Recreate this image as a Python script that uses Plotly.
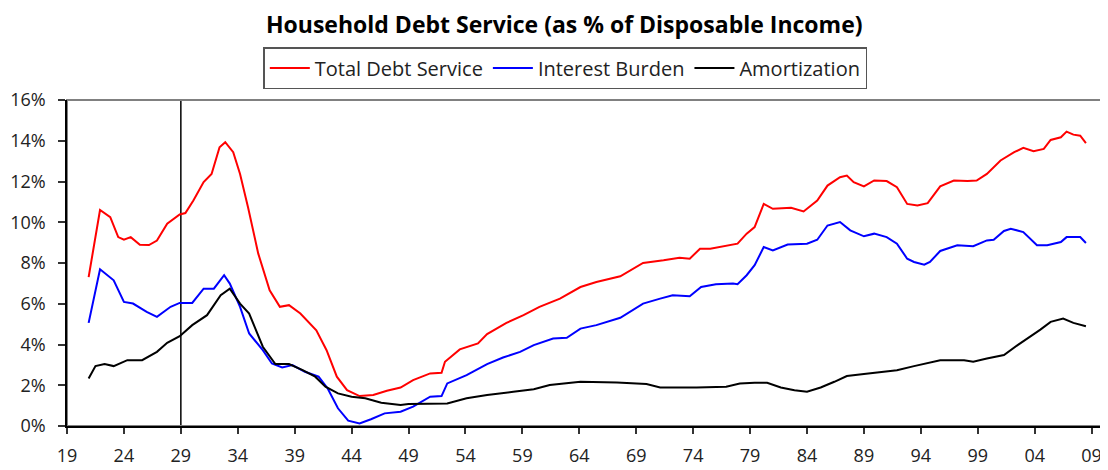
import plotly.graph_objects as go

# ---- data ----
total_years = [1920.9, 1921.9, 1922.8, 1923.5, 1924.0, 1924.6, 1925.4, 1926.2, 1926.9, 1927.8,
               1928.9, 1929.4, 1930.1, 1931.0, 1931.7, 1932.4, 1932.9, 1933.6, 1934.2, 1934.9,
               1935.8, 1936.8, 1937.7, 1938.5, 1939.5, 1940.9, 1941.8, 1942.7, 1943.6, 1944.7,
               1945.9, 1947.1, 1948.3, 1949.4, 1950.9, 1951.9, 1952.2, 1953.5, 1955.1, 1955.9,
               1957.6, 1959.1, 1960.5, 1962.3, 1964.1, 1965.5, 1967.6, 1969.6, 1971.4, 1972.8,
               1973.7, 1974.6, 1975.5, 1976.6, 1977.9, 1978.7, 1979.4, 1980.2, 1981.0, 1982.6,
               1983.7, 1984.9, 1985.8, 1986.9, 1987.5, 1988.1, 1989.0, 1989.9, 1991.0, 1991.9,
               1992.8, 1993.7, 1994.6, 1995.7, 1996.9, 1998.1, 1998.9, 1999.8, 2001.0, 2002.2,
               2003.0, 2003.9, 2004.8, 2005.4, 2006.3, 2006.8, 2007.4, 2008.0, 2008.5]
total_debt_service = [7.31, 10.6, 10.25, 9.27, 9.14, 9.27, 8.9, 8.88, 9.1, 9.93,
                      10.38, 10.45, 11.07, 11.97, 12.37, 13.68, 13.93, 13.44, 12.37, 10.74,
                      8.46, 6.66, 5.85, 5.93, 5.52, 4.70, 3.72, 2.42, 1.76, 1.47,
                      1.52, 1.73, 1.89, 2.25, 2.58, 2.61, 3.15, 3.76, 4.05, 4.51,
                      5.06, 5.44, 5.85, 6.25, 6.82, 7.07, 7.35, 8.0, 8.13, 8.26,
                      8.21, 8.7, 8.7, 8.83, 8.95, 9.44, 9.76, 10.9, 10.66, 10.71,
                      10.53, 11.07, 11.8, 12.21, 12.29, 11.97, 11.76, 12.05, 12.02, 11.72,
                      10.9, 10.82, 10.94, 11.76, 12.05, 12.02, 12.05, 12.37, 13.03, 13.44,
                      13.65, 13.49, 13.6, 14.04, 14.17, 14.45, 14.3, 14.25, 13.88]

interest_years = [1920.9, 1921.9, 1923.1, 1924.0, 1924.8, 1926.0, 1926.9, 1928.1, 1928.9, 1930.0,
                  1931.0, 1931.9, 1932.8, 1933.3, 1934.2, 1935.0, 1936.2, 1937.0, 1937.9, 1938.8,
                  1939.9, 1941.1, 1941.9, 1942.8, 1943.7, 1944.7, 1945.7, 1946.9, 1948.3, 1949.4,
                  1950.9, 1951.9, 1952.4, 1954.1, 1955.9, 1957.3, 1958.8, 1960.0, 1961.7, 1962.9,
                  1964.1, 1965.5, 1967.6, 1969.6, 1971.1, 1972.2, 1973.7, 1974.7, 1976.0, 1977.5,
                  1977.9, 1978.7, 1979.4, 1980.2, 1981.0, 1982.3, 1984.0, 1984.9, 1985.8, 1986.9,
                  1987.8, 1989.0, 1989.9, 1991.0, 1991.9, 1992.8, 1993.4, 1994.3, 1994.8, 1995.7,
                  1997.2, 1998.6, 1999.8, 2000.4, 2001.3, 2001.9, 2003.0, 2004.2, 2005.1, 2006.3,
                  2006.8, 2008.0, 2008.5]
interest_burden = [5.06, 7.69, 7.15, 6.09, 6.01, 5.6, 5.36, 5.85, 6.04, 6.04,
                   6.74, 6.74, 7.4, 6.99, 5.85, 4.54, 3.72, 3.07, 2.87, 2.99,
                   2.66, 2.42, 1.84, 0.87, 0.26, 0.13, 0.33, 0.62, 0.70, 0.95,
                   1.44, 1.47, 2.09, 2.5, 3.04, 3.36, 3.64, 3.97, 4.29, 4.33,
                   4.78, 4.95, 5.31, 6.01, 6.25, 6.42, 6.37, 6.82, 6.96, 6.99,
                   6.96, 7.4, 7.89, 8.78, 8.62, 8.91, 8.95, 9.14, 9.84, 10.01,
                   9.6, 9.31, 9.44, 9.27, 8.95, 8.21, 8.05, 7.92, 8.05, 8.59,
                   8.87, 8.82, 9.11, 9.14, 9.57, 9.68, 9.52, 8.87, 8.87, 9.03,
                   9.27, 9.27, 8.98]

amort_years = [1920.9, 1921.5, 1922.3, 1923.1, 1924.3, 1925.6, 1926.9, 1927.8, 1928.9, 1930.0,
               1931.3, 1932.5, 1933.3, 1934.2, 1935.0, 1936.2, 1937.3, 1938.5, 1939.7, 1940.8,
               1941.7, 1942.8, 1944.0, 1945.2, 1946.6, 1948.3, 1949.0, 1952.4, 1954.1, 1955.9,
               1958.2, 1960.0, 1961.4, 1964.1, 1967.3, 1969.9, 1971.1, 1974.3, 1976.9, 1978.1,
               1979.4, 1980.5, 1981.7, 1982.9, 1984.0, 1985.2, 1986.4, 1987.5, 1989.0, 1990.5,
               1991.9, 1993.4, 1994.6, 1995.7, 1997.8, 1998.6, 1999.8, 2001.3, 2002.5, 2003.6,
               2004.5, 2005.4, 2006.5, 2007.4, 2008.5]
amortization = [2.33, 2.94, 3.04, 2.94, 3.23, 3.23, 3.64, 4.08, 4.41, 4.95,
                5.44, 6.42, 6.74, 6.01, 5.52, 3.89, 3.04, 3.04, 2.74, 2.42,
                1.93, 1.6, 1.44, 1.36, 1.14, 1.03, 1.08, 1.11, 1.36, 1.52,
                1.68, 1.80, 2.01, 2.17, 2.14, 2.06, 1.89, 1.89, 1.93, 2.09,
                2.12, 2.12, 1.89, 1.76, 1.68, 1.89, 2.17, 2.45, 2.55, 2.66,
                2.74, 2.94, 3.1, 3.23, 3.23, 3.15, 3.31, 3.48, 3.97, 4.38,
                4.73, 5.11, 5.27, 5.06, 4.9]

tick_years = [1919 + 5 * i for i in range(19)]
tick_labels = ["19", "24", "29", "34", "39", "44", "49", "54", "59", "64",
               "69", "74", "79", "84", "89", "94", "99", "04", "09"]
y_tick_values = [0, 2, 4, 6, 8, 10, 12, 14, 16]
y_tick_labels = ["0%", "2%", "4%", "6%", "8%", "10%", "12%", "14%", "16%"]
marker_year = [1929]

series = [
    ("Total Debt Service", total_years, total_debt_service, "#FF0000"),
    ("Interest Burden", interest_years, interest_burden, "#0000FF"),
    ("Amortization", amort_years, amortization, "#000000"),
]

fig = go.Figure()
for name, xs, ys, color in series:
    fig.add_trace(go.Scatter(x=xs, y=ys, name=name, mode="lines",
                             line=dict(color=color, width=2)))

for yr in marker_year:
    fig.add_shape(type="line", xref="x", yref="paper", x0=yr, x1=yr, y0=0, y1=1,
                  line=dict(color="black", width=1.5), layer="below")

fig.add_shape(type="rect", xref="paper", yref="paper", x0=0, x1=1, y0=0, y1=1,
              line=dict(color="#808080", width=2), layer="below")

font_tick = dict(family="Open Sans", size=18, color="#222222")

fig.update_layout(
    width=1100, height=462,
    margin=dict(l=59, r=5, t=92, b=44, autoexpand=False),
    paper_bgcolor="white", plot_bgcolor="white",
    title=dict(text="<b>Household Debt Service (as % of Disposable Income)</b>",
               xref="paper", x=0.48, xanchor="center",
               yref="container", y=0.963, yanchor="middle",
               font=dict(family="Open Sans", size=23, color="black")),
    legend=dict(orientation="h", x=0.481, xanchor="center", y=1.098, yanchor="middle",
                bordercolor="#555555", borderwidth=1.5,
                font=dict(family="Open Sans", size=20, color="#222222"),
                itemwidth=40, tracegroupgap=0),
    xaxis=dict(range=[1919, 2010], tickmode="array", tickvals=tick_years,
               ticktext=tick_labels, showgrid=False, zeroline=False,
               showline=True, linecolor="black", linewidth=1.5,
               ticks="outside", ticklen=6, tickcolor="#333333", tickwidth=1.5,
               ticklabelstandoff=7, tickfont=font_tick, automargin=False),
    yaxis=dict(range=[0, 16], tickmode="array", tickvals=y_tick_values,
               ticktext=y_tick_labels, showgrid=False, zeroline=False,
               showline=True, linecolor="black", linewidth=1.5,
               ticks="outside", ticklen=7, tickcolor="#333333", tickwidth=1.5,
               ticklabelstandoff=9, tickfont=font_tick, automargin=False),
    showlegend=True,
)

fig.write_html("out.html")
